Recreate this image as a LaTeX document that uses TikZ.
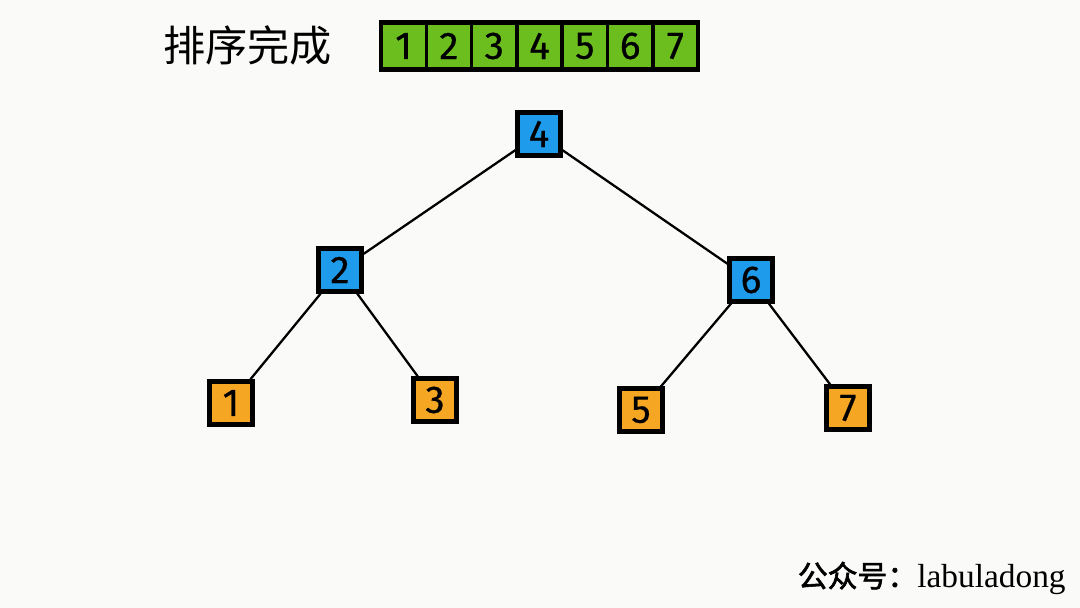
\documentclass[tikz,border=0pt]{standalone}
\usepackage{fontspec}
\setmainfont{Liberation Serif}
\newfontfamily\cjk{Noto Sans CJK SC}
\newfontfamily\cjkb{Noto Sans CJK SC}[FakeBold=2]
\newfontfamily\digitfont{Fira Sans}[FakeBold=0.6]
\definecolor{bgc}{HTML}{FAFAF8}
\definecolor{bluec}{HTML}{1E9BEB}
\definecolor{orangec}{HTML}{F5A623}
\definecolor{greenc}{HTML}{6CBE1E}
\begin{document}
\begin{tikzpicture}[x=0.02cm,y=-0.02cm,
  treenode/.style={draw=black,line width=2.4pt,minimum size=0.86cm,inner sep=0pt,font=\digitfont\fontsize{22}{22}\selectfont},
  inner/.style={treenode,fill=bluec},
  leaf/.style={treenode,fill=orangec},
  cell/.style={draw=black,line width=2pt,fill=greenc,minimum width=0.906cm,minimum height=0.92cm,inner sep=0pt,font=\digitfont\fontsize{22}{22}\selectfont},
  edge/.style={line width=1.3pt}]
\fill[bgc] (0,0) rectangle (1080,608);
\useasboundingbox (0,0) rectangle (1080,608);
\node[font=\cjk\fontsize{24}{24}\selectfont,anchor=west,inner sep=0pt] (title) at (163,45) {排序完成};
\draw[line width=2.8pt,fill=greenc] (381,22) rectangle (698,70);
\foreach \i in {1,...,7} {
  \node[cell] (c\i) at ({381+45.3*(\i-0.5)},46) {\i};
}
\draw[line width=2.8pt] (381,22) rectangle (698,70);
\node[inner] (n4) at (539,134) {4};
\node[inner] (n2) at (340,270) {2};
\node[inner] (n6) at (751,280) {6};
\node[leaf] (n1) at (231,403) {1};
\node[leaf] (n3) at (435,400) {3};
\node[leaf] (n5) at (641,410) {5};
\node[leaf] (n7) at (848,408) {7};
\draw[edge] (n4) -- (n2);
\draw[edge] (n4) -- (n6);
\draw[edge] (n2) -- (n1);
\draw[edge] (n2) -- (n3);
\draw[edge] (n6) -- (n5);
\draw[edge] (n6) -- (n7);
\node[anchor=east,inner sep=0pt] (footer) at (1066,578) {{\cjkb\fontsize{17}{17}\selectfont 公众号：}{\fontsize{19}{19}\selectfont labuladong}};
\end{tikzpicture}
\end{document}
